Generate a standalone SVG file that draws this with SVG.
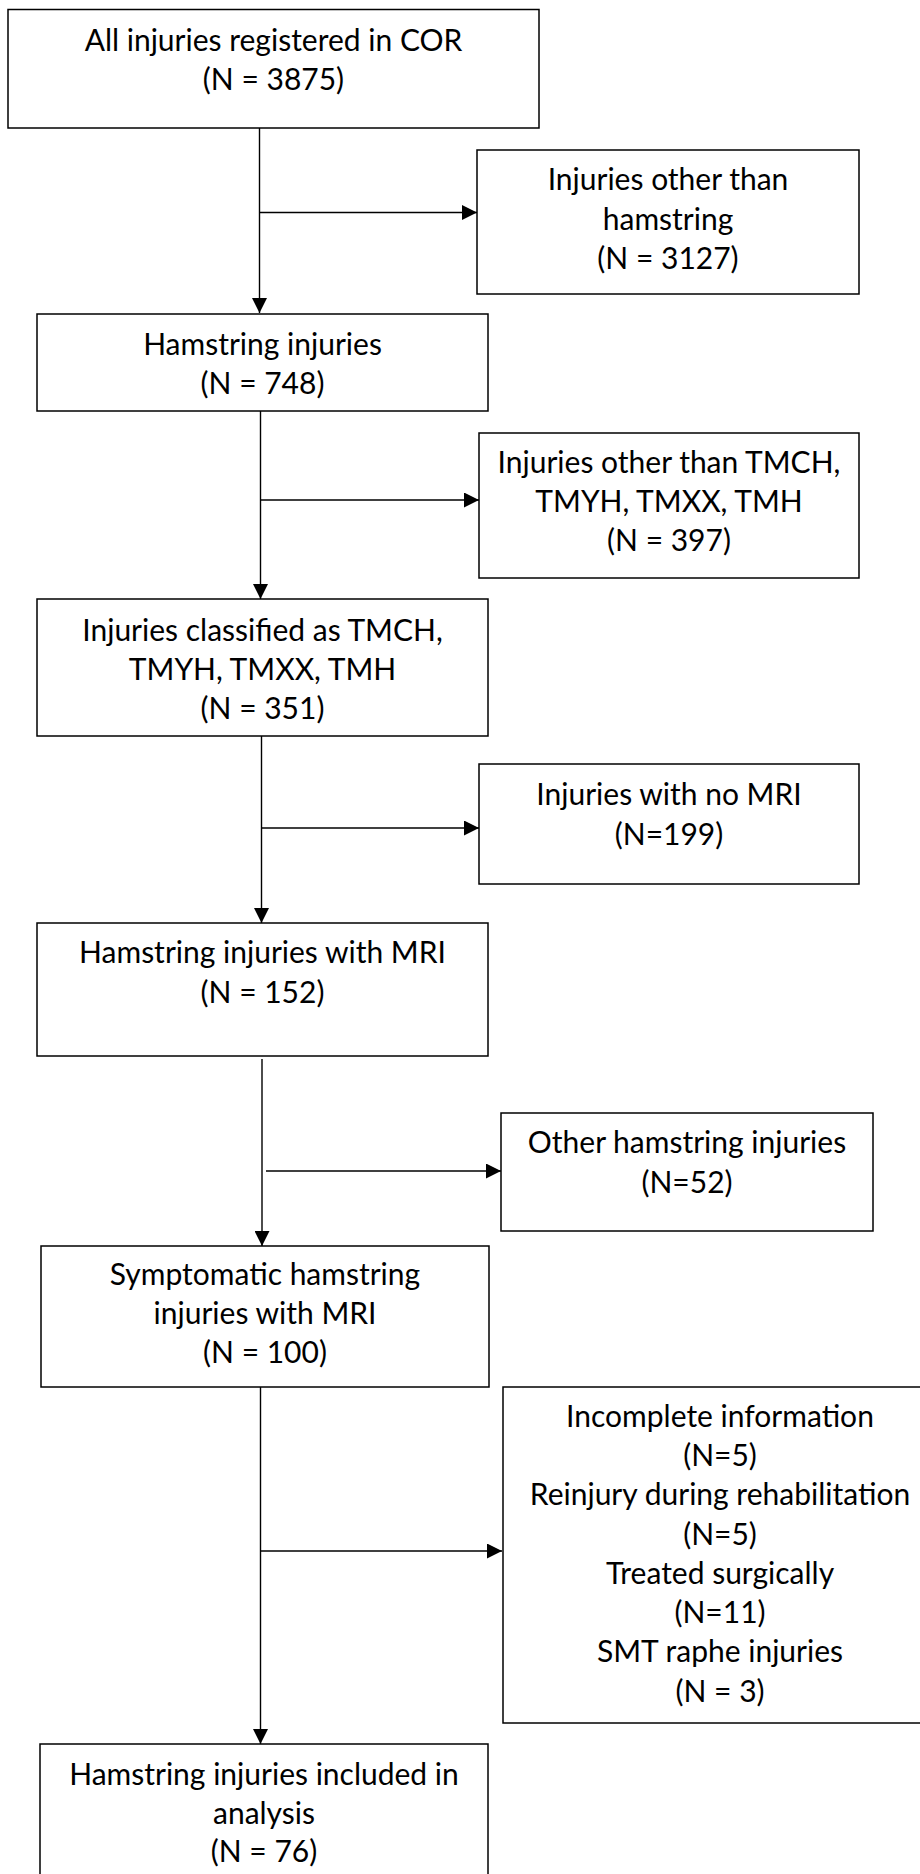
<svg xmlns="http://www.w3.org/2000/svg" width="920" height="1874" viewBox="0 0 920 1874">
<style>
  .box { fill: #ffffff; stroke: #000000; stroke-width: 1.5; }
  .lbl { font-family: Lato, "Liberation Sans", sans-serif; font-size: 30px; fill: #000000; text-anchor: middle; }
  .conn { stroke: #000000; stroke-width: 1.4; fill: none; }
</style>
<defs>
  <marker id="arr" markerWidth="15" markerHeight="15" refX="15" refY="7.5" orient="auto" markerUnits="userSpaceOnUse">
    <path d="M0,0 L15,7.5 L0,15 z" fill="#000000"/>
  </marker>
</defs>
<rect x="0" y="0" width="920" height="1874" fill="#ffffff"/>

<g id="connectors">
  <line class="conn" x1="259.5" y1="128" x2="259.5" y2="313" marker-end="url(#arr)"/>
  <line class="conn" x1="259.5" y1="212.5" x2="477" y2="212.5" marker-end="url(#arr)"/>
  <line class="conn" x1="260.5" y1="411" x2="260.5" y2="599" marker-end="url(#arr)"/>
  <line class="conn" x1="260.5" y1="500" x2="479" y2="500" marker-end="url(#arr)"/>
  <line class="conn" x1="261.5" y1="736" x2="261.5" y2="923" marker-end="url(#arr)"/>
  <line class="conn" x1="261.5" y1="828" x2="479" y2="828" marker-end="url(#arr)"/>
  <line class="conn" x1="262" y1="1059" x2="262" y2="1246" marker-end="url(#arr)"/>
  <line class="conn" x1="266" y1="1171" x2="501" y2="1171" marker-end="url(#arr)"/>
  <line class="conn" x1="260.5" y1="1387" x2="260.5" y2="1744" marker-end="url(#arr)"/>
  <line class="conn" x1="260.5" y1="1551" x2="502" y2="1551" marker-end="url(#arr)"/>
</g>

<g id="n1">
  <rect class="box" x="8" y="9.5" width="531" height="118.5"/>
  <text class="lbl" x="273.5" y="51">All injuries registered in COR</text>
  <text class="lbl" x="273.5" y="90">(N = 3875)</text>
</g>

<g id="n2">
  <rect class="box" x="477" y="150" width="382" height="144"/>
  <text class="lbl" x="668" y="190">Injuries other than</text>
  <text class="lbl" x="668" y="230">hamstring</text>
  <text class="lbl" x="668" y="269">(N = 3127)</text>
</g>

<g id="n3">
  <rect class="box" x="37" y="314" width="451" height="97"/>
  <text class="lbl" x="262.5" y="355">Hamstring injuries</text>
  <text class="lbl" x="262.5" y="394">(N = 748)</text>
</g>

<g id="n4">
  <rect class="box" x="479" y="433" width="380" height="145"/>
  <text class="lbl" x="669" y="473">Injuries other than TMCH,</text>
  <text class="lbl" x="669" y="512">TMYH, TMXX, TMH</text>
  <text class="lbl" x="669" y="551">(N = 397)</text>
</g>

<g id="n5">
  <rect class="box" x="37" y="599" width="451" height="137"/>
  <text class="lbl" x="262.5" y="641">Injuries classified as TMCH,</text>
  <text class="lbl" x="262.5" y="680">TMYH, TMXX, TMH</text>
  <text class="lbl" x="262.5" y="719">(N = 351)</text>
</g>

<g id="n6">
  <rect class="box" x="479" y="764" width="380" height="120"/>
  <text class="lbl" x="669" y="805">Injuries with no MRI</text>
  <text class="lbl" x="669" y="845">(N=199)</text>
</g>

<g id="n7">
  <rect class="box" x="37" y="923" width="451" height="133"/>
  <text class="lbl" x="262.5" y="963">Hamstring injuries with MRI</text>
  <text class="lbl" x="262.5" y="1003">(N = 152)</text>
</g>

<g id="n8">
  <rect class="box" x="501" y="1113" width="372" height="118"/>
  <text class="lbl" x="687" y="1153">Other hamstring injuries</text>
  <text class="lbl" x="687" y="1193">(N=52)</text>
</g>

<g id="n9">
  <rect class="box" x="41" y="1246" width="448" height="141"/>
  <text class="lbl" x="265" y="1285">Symptomatic hamstring</text>
  <text class="lbl" x="265" y="1324">injuries with MRI</text>
  <text class="lbl" x="265" y="1363">(N = 100)</text>
</g>

<g id="n10">
  <rect class="box" x="503" y="1387" width="440" height="336"/>
  <text class="lbl" x="720" y="1427">Incomplete information</text>
  <text class="lbl" x="720" y="1466">(N=5)</text>
  <text class="lbl" x="720" y="1505">Reinjury during rehabilitation</text>
  <text class="lbl" x="720" y="1545">(N=5)</text>
  <text class="lbl" x="720" y="1584">Treated surgically</text>
  <text class="lbl" x="720" y="1623">(N=11)</text>
  <text class="lbl" x="720" y="1662">SMT raphe injuries</text>
  <text class="lbl" x="720" y="1702">(N = 3)</text>
</g>

<g id="n11">
  <rect class="box" x="40" y="1744" width="448" height="200"/>
  <text class="lbl" x="264" y="1785">Hamstring injuries included in</text>
  <text class="lbl" x="264" y="1824">analysis</text>
  <text class="lbl" x="264" y="1862">(N = 76)</text>
</g>
</svg>
